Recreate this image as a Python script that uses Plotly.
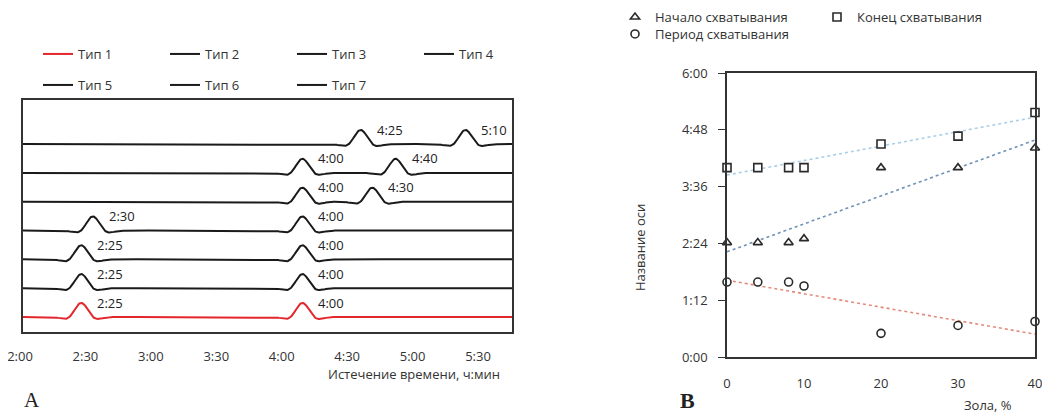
import numpy as np
import plotly.graph_objects as go

# ---------------- data ----------------
types = ["Тип 1", "Тип 2", "Тип 3", "Тип 4", "Тип 5", "Тип 6", "Тип 7"]
type_colors = ["#e3262b", "#1a1a1a", "#1a1a1a", "#1a1a1a", "#1a1a1a", "#1a1a1a", "#1a1a1a"]
start_times = ["2:25", "2:25", "2:25", "2:30", "4:00", "4:00", "4:25"]   # начало схватывания
end_times = ["4:00", "4:00", "4:00", "4:00", "4:30", "4:40", "5:10"]     # конец схватывания
period_times = ["1:35", "1:35", "1:35", "1:30", "0:30", "0:40", "0:45"]  # период схватывания
ash_pct = [0, 4, 8, 10, 20, 30, 40]

time_ticks = ["2:00", "2:30", "3:00", "3:30", "4:00", "4:30", "5:00", "5:30"]
y_ticks_right = ["0:00", "1:12", "2:24", "3:36", "4:48", "6:00"]
x_ticks_right = [0, 10, 20, 30, 40]


def to_min(s):
    h, m = s.split(":")
    return int(h) * 60 + int(m)


# page body has an 8px margin: figure spans window pixels 8..1050 / 8..414
OFF = 8
W, H = 1050 - OFF, 414 - OFF
def px(x):
    return (x - OFF) / W
def py(y):
    return 1 - (y - OFF) / H

FONT = "Open Sans"
TXT = "#333333"
AX = "#333333"

fig = go.Figure()

# ---------------- panel A ----------------
t_grid = np.arange(120, 330.01, 0.25)
sigma = 3.6
peak_h = 0.49
annotations = []
for i, name in enumerate(types):
    peaks = [to_min(start_times[i]), to_min(end_times[i])]
    shape = np.zeros_like(t_grid)
    for p in peaks:
        u = (t_grid - p) / sigma
        shape += np.exp(-u ** 2 / 2) * (1 - u ** 2 / 2)
    fig.add_trace(go.Scatter(
        x=t_grid, y=i + peak_h * shape, mode="lines", name=name,
        line=dict(color=type_colors[i], width=2),
        xaxis="x", yaxis="y",
        legend="legend" if i < 4 else "legend2",
        hoverinfo="skip",
    ))
    for lab in (start_times[i], end_times[i]):
        annotations.append(dict(
            x=to_min(lab) + 6, y=i + 0.5, xref="x", yref="y",
            text=lab, showarrow=False, xanchor="left", yanchor="middle",
            font=dict(family=FONT, size=13, color="#222222"),
        ))

# helper trace on the tick-label axis of panel A
fig.add_trace(go.Scatter(x=[to_min(t) for t in time_ticks], y=[None] * len(time_ticks),
                         xaxis="x3", yaxis="y", showlegend=False, hoverinfo="skip",
                         mode="markers"))

# ---------------- panel B ----------------
xs = np.array(ash_pct, dtype=float)
series = [
    ("Начало схватывания", [to_min(s) for s in start_times], "triangle-up", "#6f93b8", "legend3"),
    ("Конец схватывания", [to_min(s) for s in end_times], "square", "#a9cfe8", "legend3"),
    ("Период схватывания", [to_min(s) for s in period_times], "circle", "#e58a7a", "legend4"),
]
for name, ys, sym, tcol, lg in series:
    k, b = np.polyfit(xs, np.array(ys, dtype=float), 1)
    xl = np.array([0, 40])
    fig.add_trace(go.Scatter(x=xl, y=k * xl + b, mode="lines", showlegend=False,
                             line=dict(color=tcol, width=1.6, dash="dot"),
                             xaxis="x2", yaxis="y2", hoverinfo="skip"))
for name, ys, sym, tcol, lg in series:
    fig.add_trace(go.Scatter(x=ash_pct, y=ys, mode="markers", name=name,
                             marker=dict(symbol=sym, size=8, color="white",
                                         line=dict(color="#2a2a2a", width=1.6)),
                             xaxis="x2", yaxis="y2", legend=lg, hoverinfo="skip",
                             cliponaxis=False))

# ---------------- text ----------------
def note(x, y, text, **kw):
    d = dict(x=px(x), y=py(y), xref="paper", yref="paper", text=text, showarrow=False,
             xanchor="center", yanchor="middle")
    d.update(kw)
    return d

annotations += [
    note(414, 374, "Истечение времени, ч:мин", font=dict(family=FONT, size=13, color=TXT)),
    note(32, 400, "A", font=dict(family="Liberation Serif", size=21, color="#222222")),
    note(687, 400, "<b>B</b>", font=dict(family="Liberation Serif", size=22, color="#222222")),
    note(988, 405, "Зола, %", font=dict(family=FONT, size=13, color=TXT)),
    note(640, 248, "Название оси", textangle=-90, font=dict(family=FONT, size=13, color=TXT)),
]

box = dict(showline=True, mirror=True, linecolor=AX, linewidth=1.6, showgrid=False,
           zeroline=False, automargin=False)

leg_common = dict(orientation="h", bgcolor="rgba(0,0,0,0)", borderwidth=0,
                  font=dict(family=FONT, size=13, color=TXT), entrywidthmode="pixels",
                  xanchor="left", yanchor="middle", tracegroupgap=0, itemclick=False)

fig.update_layout(
    width=W, height=H, margin=dict(l=0, r=0, t=0, b=0, autoexpand=False),
    paper_bgcolor="white", plot_bgcolor="rgba(0,0,0,0)",
    font=dict(family=FONT, size=13, color=TXT),
    showlegend=True,
    xaxis=dict(domain=[px(23), px(512)], range=[120, 330], showticklabels=False, ticks="",
               anchor="y", **box),
    yaxis=dict(domain=[py(332), py(100)], range=[-0.52, 7.53], showticklabels=False, ticks="",
               anchor="x", **box),
    xaxis3=dict(domain=[px(20), px(478)], range=[120, 330], anchor="y", showline=False,
                showgrid=False, zeroline=False, ticks="", automargin=False,
                ticklabeloverflow="allow",
                tickvals=[to_min(t) for t in time_ticks], ticktext=time_ticks,
                tickfont=dict(family=FONT, size=13, color=TXT), ticklabelstandoff=15),
    xaxis2=dict(domain=[px(727), px(1035)], range=[0, 40], anchor="y2",
                tickvals=x_ticks_right, ticks="", ticklabeloverflow="allow",
                tickfont=dict(family=FONT, size=13, color=TXT), ticklabelstandoff=14, **box),
    yaxis2=dict(domain=[py(357), py(73)], range=[0, 360], anchor="x2",
                tickvals=[to_min(t) for t in y_ticks_right], ticktext=y_ticks_right,
                ticks="outside", ticklen=7, tickcolor=AX, tickwidth=1.2,
                tickfont=dict(family=FONT, size=13, color=TXT), ticklabelstandoff=8, **box),
    legend=dict(x=px(38), y=py(54), entrywidth=82, **leg_common),
    legend2=dict(x=px(38), y=py(85), entrywidth=82, **leg_common),
    legend3=dict(x=px(615), y=py(17), entrywidth=157, itemsizing="trace", **leg_common),
    legend4=dict(x=px(615), y=py(34), entrywidth=157, itemsizing="trace", **leg_common),
    annotations=annotations,
    hovermode=False,
)

fig.write_html("out.html")
